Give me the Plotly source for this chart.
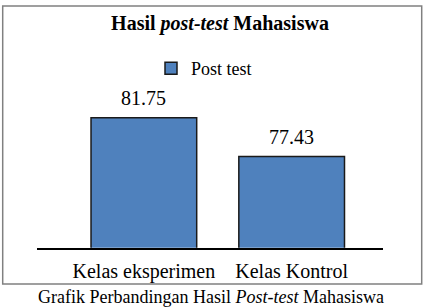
import plotly.graph_objects as go

categories = ["Kelas eksperimen", "Kelas Kontrol"]
values = [81.75, 77.43]
labels = ["81.75", "77.43"]
series_name = "Post test"

W, H = 429, 307
def px_x(x):
    return x / W
def px_y(y):
    return 1 - y / H

FONT = "Liberation Serif, Times New Roman, serif"
BLUE = "#4F81BD"

fig = go.Figure()
fig.add_trace(go.Bar(
    x=categories, y=values, name=series_name,
    marker=dict(color=BLUE, line=dict(color="#1a1a1a", width=1.5)),
    width=0.715,
    showlegend=True,
))

value_labels = [dict(x=c, y=v, text=t, xref="x", yref="y", showarrow=False,
                     xanchor="center", yanchor="bottom", yshift=7,
                     font=dict(family=FONT, size=20, color="black"))
                for c, v, t in zip(categories, values, labels)]

fig.update_layout(
    width=W, height=H,
    margin=dict(l=0, r=0, t=0, b=0),
    paper_bgcolor="white", plot_bgcolor="white",
    font=dict(family=FONT, color="black"),
    title=dict(text="<b>Hasil <i>post-test</i> Mahasiswa</b>",
               x=px_x(220), y=px_y(23), xanchor="center", yanchor="middle",
               font=dict(family=FONT, size=20, color="black")),
    legend=dict(orientation="h", x=px_x(151), y=px_y(50), xanchor="left", yanchor="top",
                font=dict(family=FONT, size=18, color="black"),
                bgcolor="rgba(0,0,0,0)"),
    xaxis=dict(domain=[px_x(36.7), px_x(383)], range=[-0.725, 1.618],
               showline=True, linecolor="black", linewidth=1.5,
               showgrid=False, zeroline=False, ticks="",
               tickfont=dict(family=FONT, size=20, color="black"),
               ticklabelstandoff=5),
    yaxis=dict(domain=[px_y(247.7), px_y(95)], range=[67.3, 84.27],
               visible=False, showgrid=False),
    shapes=[dict(type="rect", xref="paper", yref="paper",
                 x0=px_x(2.7), x1=px_x(421.7), y0=px_y(284), y1=px_y(6),
                 line=dict(color="#808080", width=1.5))],
    annotations=value_labels + [dict(text="Grafik Perbandingan Hasil <i>Post-test</i> Mahasiswa",
                      xref="paper", yref="paper", x=px_x(211), y=px_y(296.5),
                      xanchor="center", yanchor="middle", showarrow=False,
                      font=dict(family=FONT, size=18, color="black"))],
)

fig.write_html("out.html")
